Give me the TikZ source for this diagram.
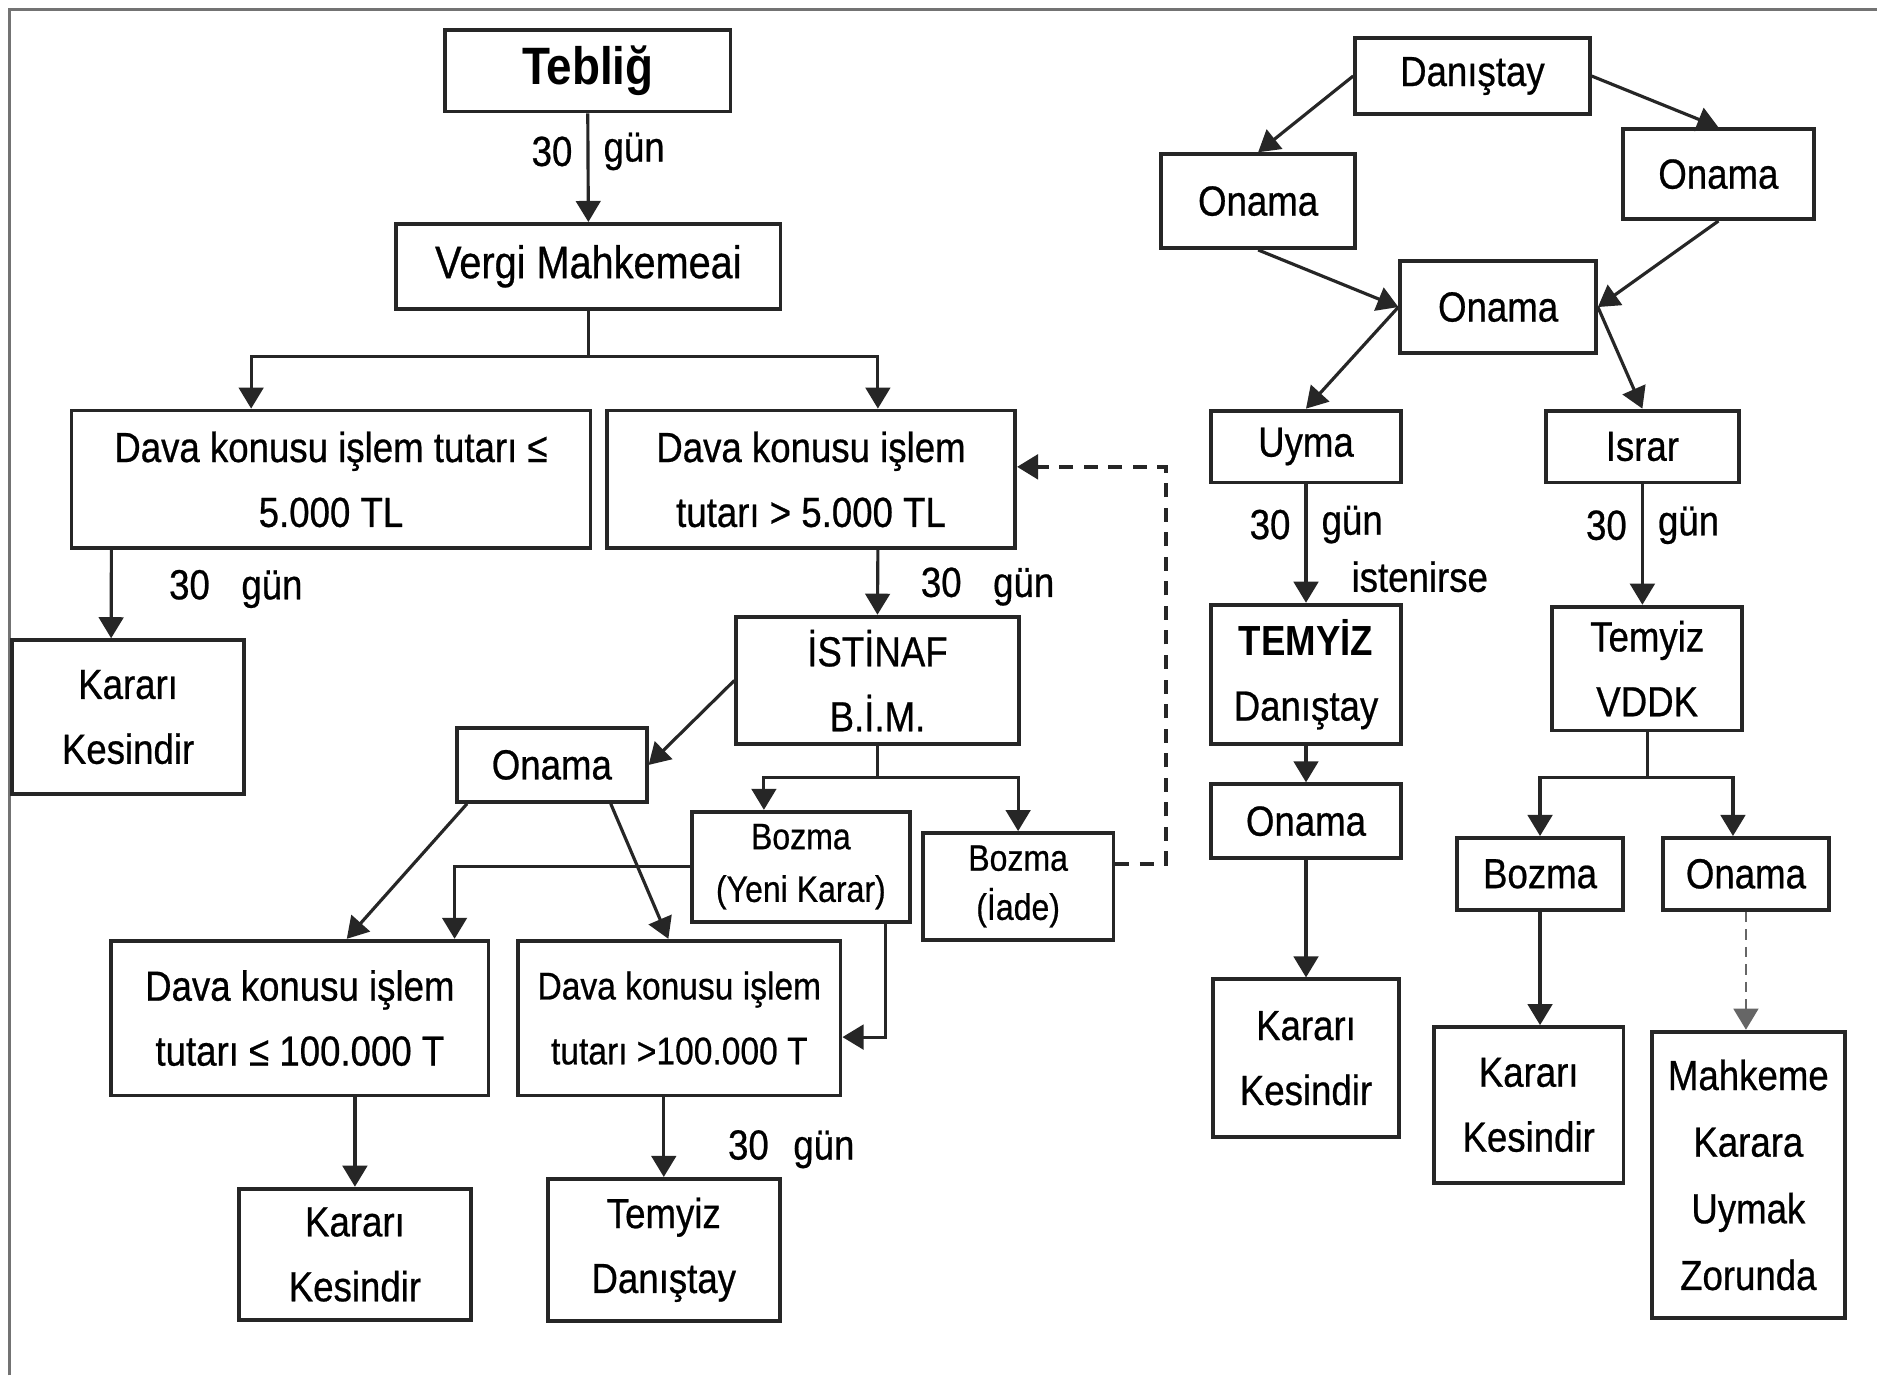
\documentclass[tikz,border=0pt]{standalone}
\usepackage{fontspec}
\setmainfont{Liberation Sans}[FakeStretch=0.87, UprightFeatures={FakeBold=0.6}]
\usetikzlibrary{arrows.meta}

\tikzstyle{box}=[draw=black!85, line width=1.1pt, align=center, inner sep=1pt]
\tikzstyle{line}=[draw=black!85, line width=0.9pt]
\tikzstyle{arrow}=[line, -{Triangle[width=7pt,length=6pt]}]
\tikzstyle{dash arrow}=[arrow, line width=1.1pt, dash pattern=on 4pt off 3pt]
\tikzstyle{dot arrow}=[arrow, draw=black!60, line width=0.8pt, dash pattern=on 3pt off 2pt]
\tikzstyle{lbl}=[font=\fontsize{12}{14}\selectfont, inner sep=4pt]

\begin{document}
\begin{tikzpicture}[x=0.012cm, y=-0.012cm]
	    \path[fill=white] (0,0) rectangle (1568,1149);
	    \useasboundingbox (0,0) rectangle (1568,1149);
	    \draw[black!55, line width=1pt] (8,1149) -- (8,8) -- (1568,8);
	    % left part
	    \foreach \pos/\name/\w/\h/\fs/\bs/\txt in {{(491,59)/tebl/2.86/0.82/15/18/{\bfseries Tebliğ}},
	        {(491.5,222.5)/vergi/3.85/0.85/13/16/{Vergi Mahkemeai}},
	        {(276.5,400.5)/davaA/5.20/1.38/12/18.5/{Dava konusu işlem tutarı ≤\\5.000 TL}},
	        {(677.5,400.5)/davaB/4.09/1.38/12/18.5/{Dava konusu işlem\\tutarı > 5.000 TL}},
	        {(107,599)/kesinA/2.33/1.54/12/18.5/{Kararı\\Kesindir}},
	        {(733,568.5)/istinaf/2.83/1.28/12/18.5/{İSTİNAF\\B.İ.M.}},
	        {(461,639)/onamaI/1.90/0.74/12/18.5/{Onama}},
	        {(669,724)/bozmaY/2.18/1.10/10.5/15/{Bozma\\(Yeni Karar)}},
	        {(850.5,740.5)/bozmaI/1.91/1.07/10.5/14/{Bozma\\(İade)}},
	        {(250.5,850.5)/davaC/3.78/1.55/12/18.5/{Dava konusu işlem\\tutarı ≤ 100.000 T}},
	        {(567.5,850.5)/davaD/3.23/1.55/11/18.5/{Dava konusu işlem\\tutarı >100.000 T}},
	        {(296.5,1048)/kesinB/2.32/1.32/12/18.5/{Kararı\\Kesindir}},
	        {(554.5,1044)/temyizA/2.32/1.42/12/18.5/{Temyiz\\Danıştay}}}
	        \node[box, font=\fontsize{\fs}{\bs}\selectfont, minimum width=\w cm, minimum height=\h cm] (\name) at \pos {\txt};
	    % right part
	    \foreach \pos/\name/\w/\h/\fs/\bs/\txt in {{(1230,63.5)/danis/2.35/0.76/12/18.5/{Danıştay}},
	        {(1051,168)/onamaL/1.94/0.94/12/18.5/{Onama}},
	        {(1435.5,145.5)/onamaR/1.91/0.90/12/18.5/{Onama}},
	        {(1251.5,256.5)/onamaC/1.96/0.92/12/18.5/{Onama}},
	        {(1091,373)/uyma/1.90/0.72/12/18.5/{Uyma}},
	        {(1372,373)/israr/1.94/0.72/12/18.5/{Israr}},
	        {(1091,563.5)/temyizB/1.90/1.40/12/18.5/{\bfseries TEMYİZ\\Danıştay}},
	        {(1091,686)/onamaU/1.90/0.74/12/18.5/{Onama}},
	        {(1091,884)/kesinC/1.86/1.58/12/18.5/{Kararı\\Kesindir}},
	        {(1376,558.5)/vddk/1.90/1.24/12/18.5/{Temyiz\\VDDK}},
	        {(1286.5,730)/bozmaV/1.67/0.72/12/18.5/{Bozma}},
	        {(1458.5,730)/onamaV/1.67/0.72/12/18.5/{Onama}},
	        {(1277,923)/kesinD/1.90/1.56/12/18.5/{Kararı\\Kesindir}},
	        {(1460.5,981.5)/mahk/1.93/2.87/12/19/{Mahkeme\\Karara\\Uymak\\Zorunda}}}
	        \node[box, font=\fontsize{\fs}{\bs}\selectfont, minimum width=\w cm, minimum height=\h cm] (\name) at \pos {\txt};

	    \foreach \source/\dest in {danis.west/onamaL.north, danis.east/onamaR.north, onamaL.south/onamaC.west,
	        onamaR.south/onamaC.east, onamaC.west/uyma.north, onamaC.east/israr.north, istinaf.west/onamaI.east,
	        temyizB.south/onamaU.north, onamaU.south/kesinC.north}
			\path[arrow] (\source) -- (\dest);

	    \path[arrow] (tebl.south) -- node[lbl, left, pos=0.35] (t30) {30} node[lbl, right, pos=0.35] (tgun) {gün} (vergi.north);
	    \coordinate (vSplit) at ([yshift=-0.456cm]vergi.south);
	    \path[line] (vergi.south) -- (vSplit);
	    \path[arrow] (vSplit) -| ([xshift=-0.8cm]davaA.north);
	    \path[arrow] (vSplit) -| ([xshift=0.67cm]davaB.north);
	    \path[arrow] ([xshift=-2.2cm]davaA.south) -- ([xshift=-0.17cm]kesinA.north);
	    \node[lbl] (gunA) at (197,492) {30\hspace{9pt}gün};
	    \path[arrow] ([xshift=0.67cm]davaB.south) -- (istinaf.north);
	    \node[lbl] (gunB) at (825,490) {30\hspace{9pt}gün};
	    \coordinate (iSplit) at ([yshift=-0.31cm]istinaf.south);
	    \path[line] (istinaf.south) -- (iSplit);
	    \path[arrow] (iSplit) -| ([xshift=-0.37cm]bozmaY.north);
	    \path[arrow] (iSplit) -| (bozmaI.north);
	    \path[dash arrow] ([yshift=0.222cm]bozmaI.east) -- ++(42,0) |- ([yshift=0.126cm]davaB.east);
	    \path[arrow] ([xshift=-0.85cm]onamaI.south) -- ([xshift=0.47cm]davaC.north);
	    \path[arrow] ([xshift=0.59cm]onamaI.south) -- ([xshift=-0.11cm]davaD.north);
	    \path[arrow] (bozmaY.west) -| ([xshift=1.55cm]davaC.north);
	    \path[arrow] ([xshift=0.85cm]bozmaY.south) |- ([yshift=-0.19cm]davaD.east);
	    \path[arrow] (kesinB.north |- davaC.south) -- (kesinB.north);
	    \path[arrow] (temyizA.north |- davaD.south) -- (temyizA.north);
	    \node[lbl] (gunC) at (661,960) {30\hspace{7pt}gün};

	    \path[arrow] (uyma.south) -- node[lbl, left, pos=0.34] (u30) {30} node[lbl, right, pos=0.34] (ugun) {gün}
	        node[lbl, right, pos=0.78, xshift=0.3cm] (ist) {istenirse} (temyizB.north);
	    \path[arrow] (israr.south) -- node[lbl, left, pos=0.34] (i30) {30} node[lbl, right, pos=0.34] (igun) {gün} (israr.south |- vddk.north);
	    \coordinate (vdSplit) at ([yshift=-0.456cm]vddk.south);
	    \path[line] (vddk.south) -- (vdSplit);
	    \path[arrow] (vdSplit) -| (bozmaV.north);
	    \path[arrow] (vdSplit) -| ([xshift=-0.13cm]onamaV.north);
	    \path[arrow] (bozmaV.south) -- (bozmaV.south |- kesinD.north);
	    \path[dot arrow] (onamaV.south) -- (onamaV.south |- mahk.north);
	\end{tikzpicture}
\end{document}
